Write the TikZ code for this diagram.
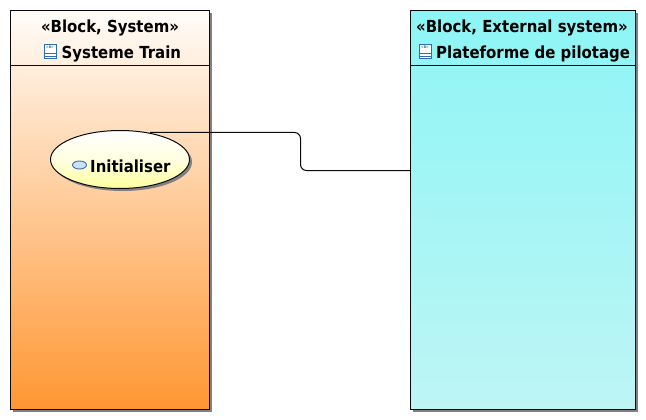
\documentclass[tikz,border=0pt]{standalone}
\usepackage{fontspec}
\setmainfont{DejaVu Sans}[BoldFont={DejaVu Sans Bold},FakeStretch=0.9]
\usetikzlibrary{shapes.geometric,calc,shadings}
\definecolor{edgeK}{RGB}{10,10,10}
\definecolor{shadowG}{RGB}{128,128,128}
\definecolor{iconB}{RGB}{50,110,175}
\definecolor{iconF}{RGB}{205,225,250}
\tikzset{
  x=1pt,y=-1pt,
  blockbox/.style={draw=edgeK,line width=1pt,rectangle,inner sep=0pt,outer sep=0pt,anchor=north west},
  blockshadow/.style={fill=shadowG,rectangle,inner sep=0pt,outer sep=0pt,anchor=north west},
  title/.style={font=\bfseries\fontsize{16.6}{18}\selectfont,text=black,inner sep=0pt,anchor=center},
  conn/.style={draw=edgeK,line width=1pt,rounded corners=6pt},
  divider/.style={draw=edgeK,line width=1pt},
  usecase/.style={ellipse,draw=edgeK,line width=1pt,inner sep=0pt,outer sep=0pt,minimum width=139pt,minimum height=58pt,top color=white,bottom color=yellow!38!white,middle color=yellow!12!white},
  caseshadow/.style={ellipse,fill=shadowG,inner sep=0pt,outer sep=0pt,minimum width=139pt,minimum height=58pt},
  iconbox/.style={draw=iconB,fill=white,line width=.8pt,rectangle,inner sep=0pt,minimum width=12pt,minimum height=14pt},
  iconoval/.style={ellipse,draw=iconB,fill=iconF,line width=.9pt,inner sep=0pt,minimum width=14pt,minimum height=8pt},
  icontext/.style={font=\bfseries\fontsize{3.5}{4}\selectfont,text=iconB,inner sep=0pt}
}
\begin{document}
\begin{tikzpicture}
\useasboundingbox (0,0) rectangle (646,420);
\fill[white] (0,0) rectangle (646,420);
% shadows
\node[blockshadow,minimum width=199pt,minimum height=399pt] (shL) at (13,13) {};
\node[blockshadow,minimum width=225pt,minimum height=399pt] (shR) at (413,13) {};
% blocks
\node[blockbox,minimum width=199pt,minimum height=399pt,top color={rgb,255:red,255;green,252;blue,249},bottom color={rgb,255:red,255;green,150;blue,50}] (train) at (10.5,10.5) {};
\node[blockbox,minimum width=225pt,minimum height=399pt,top color={rgb,255:red,141;green,245;blue,245},bottom color={rgb,255:red,190;green,245;blue,245}] (plat) at (410.5,10.5) {};
\coordinate (dL1) at (10.5,65.5); \coordinate (dL2) at (210,65.5);
\coordinate (dR1) at (410.5,65.5); \coordinate (dR2) at (635.5,65.5);
\draw[divider] (dL1) -- (dL2);
\draw[divider] (dR1) -- (dR2);
% titles
\node[title] (t1) at (110,28) {«Block, System»};
\node[title,anchor=west] (t2) at (61.5,54) {Systeme Train};
\node[iconbox] (i1) at (50,51.5) {};
\node[icontext] (i1t) at (50,47.5) {<B>};
\draw[iconB,line width=.7pt] ($(i1.west)+(0,2)$) -- ($(i1.east)+(0,2)$) ($(i1.west)+(0,4.5)$) -- ($(i1.east)+(0,4.5)$);
\node[title] (t3) at (522,28) {«Block, External system»};
\node[title,anchor=west] (t4) at (436,54) {Plateforme de pilotage};
\node[iconbox] (i2) at (425,51.5) {};
\node[icontext] (i2t) at (425,47.5) {<B>};
\draw[iconB,line width=.7pt] ($(i2.west)+(0,2)$) -- ($(i2.east)+(0,2)$) ($(i2.west)+(0,4.5)$) -- ($(i2.east)+(0,4.5)$);
% use case
\node[caseshadow] (ucs) at (122.5,162) {};
\node[usecase] (uc) at (120,159.5) {};
\node[iconoval] (ov) at (79.5,165) {};
\node[title,anchor=west] (ucl) at (90,166.5) {Initialiser};
% connector
\coordinate (c1) at (150,132.5);
\coordinate (c2) at (410.5,170.5);
\draw[conn] (c1) -- (300.5,132.5) -- (300.5,170.5) -- (c2);
\end{tikzpicture}
\end{document}
